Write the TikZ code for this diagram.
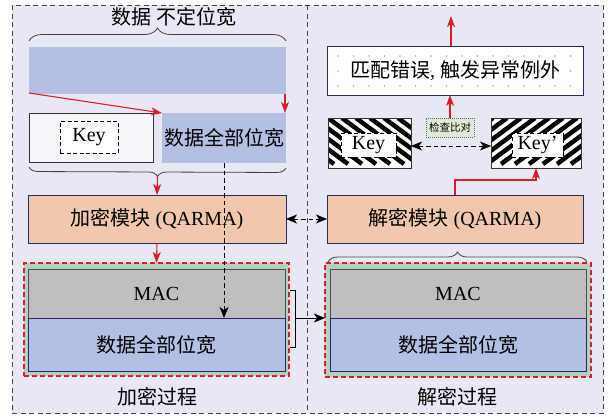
\documentclass[tikz,border=0pt]{standalone}
\usepackage{fontspec}
\setmainfont{Liberation Serif}
\newfontfamily\cjk{Noto Sans CJK SC}
\usetikzlibrary{arrows.meta,decorations.pathreplacing}
\definecolor{panelbg}{HTML}{E8E8F5}
\definecolor{bandblue}{HTML}{B4BFE3}
\definecolor{datablue}{HTML}{B3C0E6}
\definecolor{peach}{HTML}{F1C8AD}
\definecolor{macgray}{HTML}{C0BEC0}
\definecolor{greenbox}{HTML}{B4CFBF}
\definecolor{keybg}{HTML}{F5F5FA}
\definecolor{navy}{HTML}{2A2A5E}
\definecolor{redc}{HTML}{D81E2A}
\definecolor{chkgreen}{HTML}{DCEBD6}
\definecolor{framegray}{HTML}{444444}
\begin{document}
\begin{tikzpicture}[x=1pt,y=-1pt,
  every node/.style={inner sep=0pt, outer sep=0pt, text=black},
  txt/.style={font=\fontsize{20}{24}\selectfont},
  panel/.style={fill=panelbg, minimum height=408},
  frame/.style={draw=framegray, line width=0.9pt, dash pattern=on 5pt off 3.5pt},
  navybox/.style={draw=navy, line width=0.8pt},
  greenwrap/.style={fill=greenbox, draw=redc, line width=1.3pt, dash pattern=on 5pt off 3pt},
  redarrow/.style={draw=redc, line width=1.1pt, -{Stealth[length=11pt,width=8pt,inset=3pt]}},
  blkarrow/.style={draw=black, line width=0.9pt, -{Stealth[length=11pt,width=9pt,inset=3pt]}},
  dashline/.style={dash pattern=on 4.5pt off 3pt},
  bracestyle/.style={draw=black!75, line width=0.8pt, decorate},
  innerkey/.style={fill=white, draw=black, line width=0.8pt, dash pattern=on 4pt off 2.5pt, txt},
  stripe/.style={line width=4.5pt, black}
]
\useasboundingbox[fill=white] (0,0) rectangle (608,416);

% two panels: encryption (left) and decryption (right)
\node[panel, minimum width=295] (lp) at (159.5,209) {};
\node[panel, minimum width=296] (rp) at (455,209) {};
\draw[frame] (lp.north west) rectangle (rp.south east);
\draw[frame] (lp.north east) -- (lp.south east);

% ---------------- encryption side ----------------
\node[txt] (ttl) at (174,17) {\cjk 数据 不定位宽};
\node[fill=bandblue, minimum width=257, minimum height=47] (band) at (157.5,70.5) {};
\draw[bracestyle, decoration={brace, amplitude=13pt}]
  ([yshift=6pt]band.north west) -- ([yshift=6pt]band.north east);

\node[fill=keybg, draw=black!80, line width=0.8pt, minimum width=124, minimum height=49] (keybox) at (91,137.5) {};
\node[innerkey, minimum width=58, minimum height=32] (keyin) at (89,137) {Key};
\node[fill=bandblue, minimum width=124, minimum height=50, txt] (datatop) at (224,138) {\cjk 数据全部位宽};

\draw[redarrow] ([yshift=1pt]band.south west) -- (datatop.north west);
\draw[redarrow] ([xshift=-1pt]band.south east) -- ([xshift=-1pt]datatop.north east);

\draw[bracestyle, decoration={brace, amplitude=9pt}]
  ([yshift=-5pt]datatop.south east) -- ([yshift=-5pt]keybox.south west);
\coordinate (lbt) at (157.5,177);

\node[navybox, fill=peach, minimum width=258, minimum height=48, txt] (enc) at (157,219) {{\cjk 加密模块} (QARMA)};
\draw[redarrow] (lbt) -- (enc.north);

\node[greenwrap, minimum width=265, minimum height=113] (lgreen) at (156.5,319.5) {};
\node[draw=black!70, line width=0.8pt, fill=macgray, minimum width=257, minimum height=49, txt] (lmac) at (156.5,293.5) {MAC};
\node[navybox, fill=datablue, minimum width=257, minimum height=53, txt] (ldata) at (156.5,344.5) {\cjk 数据全部位宽};
\draw[redarrow] (enc.south) -- (lgreen.north);
\node[txt] (lcap) at (157,397) {\cjk 加密过程};

\draw[blkarrow, dashline] (datatop.south) -- (datatop.south |- lmac.south);

% bracket gathering MAC and data, sent to the decryption side
\draw[black, line width=0.8pt] (290,290) -- (295,290) -- (295,347) -- (290,347);
\coordinate (brk) at (295,318);

% ---------------- decryption side ----------------
\coordinate (errtop) at (451,16);
\node[navybox, fill=white, minimum width=256, minimum height=49] (err) at (455,70.5) {};
\begin{scope}
  \clip (err.south west) rectangle (err.north east);
  \foreach \i in {0,...,16} \foreach \j in {0,1,2}
    \fill[black!35] ([xshift=11pt+15.5*\i pt, yshift=-10pt-15*\j pt]err.north west) circle (0.9pt);
\end{scope}
\draw[navy, line width=0.8pt] (err.south west) rectangle (err.north east);
\node[txt] (errtxt) at (err.center) {{\cjk 匹配错误}, {\cjk 触发异常例外}};
\draw[redarrow] (err.north -| errtop) -- (errtop);

% hatched key registers
\node[fill=white, minimum width=83, minimum height=50] (key1) at (369.5,143) {};
\begin{scope}
  \clip (key1.south west) rectangle (key1.north east);
  \foreach \s in {-84,-70,...,98}
    \draw[stripe] ([xshift=\s pt]key1.north west) -- ++(62,46);
\end{scope}
\draw[black!80, line width=0.8pt] (key1.south west) rectangle (key1.north east);
\node[innerkey, minimum width=55, minimum height=24] (key1in) at (368.5,145) {Key};

\node[fill=white, minimum width=90, minimum height=50] (key2) at (536,143) {};
\begin{scope}
  \clip (key2.south west) rectangle (key2.north east);
  \foreach \s in {2,16,...,170}
    \draw[stripe] ([xshift=\s pt]key2.north west) -- ++(-62,46);
\end{scope}
\draw[black!80, line width=0.8pt] (key2.south west) rectangle (key2.north east);
\node[innerkey, minimum width=51, minimum height=24] (key2in) at (537.5,145) {Key’};

\node[fill=chkgreen, draw=black!60, line width=0.6pt, dash pattern=on 1pt off 1pt,
      minimum width=48, minimum height=19, font=\cjk\fontsize{10.5}{12}\selectfont] (chk) at (450,127.5) {检查比对};
\draw[redarrow] (chk.north) -- (err.south -| chk.north);
\draw[blkarrow, dashline, {Stealth[length=11pt,width=9pt,inset=3pt]}-{Stealth[length=11pt,width=9pt,inset=3pt]}]
  ([yshift=-3pt]key1.east) -- ([yshift=-3pt]key2.west);

\node[navybox, fill=peach, minimum width=256, minimum height=48, txt] (dec) at (455,219) {{\cjk 解密模块} (QARMA)};
\draw[redarrow] (dec.north) -- ++(0,-15) -| (key2.south);

\draw[blkarrow, dashline, {Stealth[length=11pt,width=9pt,inset=3pt]}-{Stealth[length=11pt,width=9pt,inset=3pt]}]
  (enc.east) -- (dec.west);

\node[greenwrap, minimum width=266, minimum height=114] (rgreen) at (458,320) {};
\node[draw=black!70, line width=0.8pt, fill=macgray, minimum width=256, minimum height=49, txt] (rmac) at (458,293.5) {MAC};
\node[navybox, fill=datablue, minimum width=256, minimum height=53, txt] (rdata) at (458,344.5) {\cjk 数据全部位宽};
\draw[bracestyle, decoration={brace, amplitude=10pt}]
  ([xshift=3pt,yshift=1pt]rgreen.north west) -- ([xshift=-4pt,yshift=1pt]rgreen.north east);
\node[txt] (rcap) at (457,397) {\cjk 解密过程};

\draw[blkarrow] (brk) -- (brk -| rgreen.west);
\end{tikzpicture}
\end{document}
